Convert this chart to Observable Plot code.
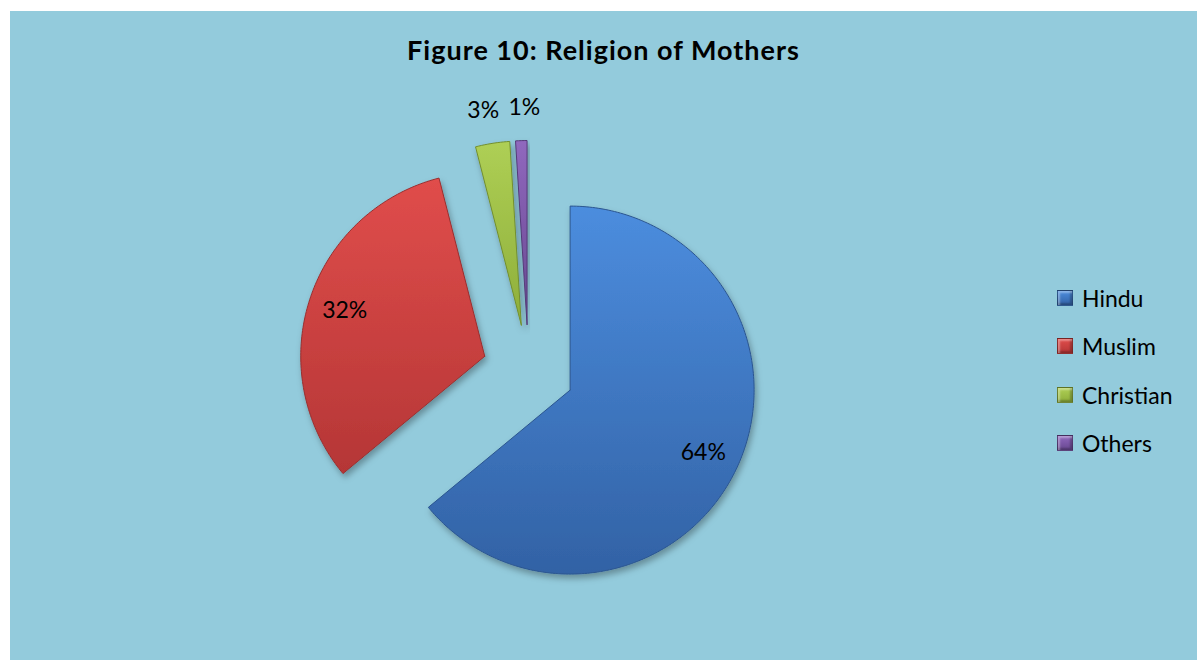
<!DOCTYPE html>
<html>
<head>
<meta charset="utf-8">
<script src="https://cdn.jsdelivr.net/npm/d3@7"></script>
<script src="https://cdn.jsdelivr.net/npm/@observablehq/plot@0.6"></script>
<style>
  html, body { margin: 0; padding: 0; background: #ffffff; }
  #chart { position: absolute; left: 10px; top: 11px; width: 1187px; height: 649px; background: #93CBDC; overflow: hidden; font-family: Lato, "Open Sans", sans-serif; }
  #title { position: absolute; left: 0; width: 100%; top: 23px; text-align: center; font-weight: bold; font-size: 27px; letter-spacing: 1px; color: #000; line-height: 1.2; }
  #plot { position: absolute; left: 0; top: 0; }
  #legend { position: absolute; left: 1047px; top: 263px; }
  .item { display: flex; align-items: center; height: 48.3px; font-size: 23px; color: #000; }
  .sw { width: 16px; height: 16px; margin-right: 9px; box-sizing: border-box; border: 1px solid rgba(0,0,0,0.35); box-shadow: inset 2px 2px 2px rgba(255,255,255,0.35), inset -2px -2px 2px rgba(0,0,0,0.25); }
</style>
</head>
<body>
<div id="chart">
  <div id="title">Figure 10: Religion of Mothers</div>
  <div id="plot"></div>
  <div id="legend"></div>
</div>
<script>
// ---- data ----
const categories = ["Hindu", "Muslim", "Christian", "Others"];
const values = [64, 32, 3, 1];
const valueLabels = ["64%", "32%", "3%", "1%"];

// ---- style ----
const topColors = ["#4C8DDE", "#E04D4B", "#AECF55", "#9068BE"];
const bottomColors = ["#3262A5", "#B53636", "#8EAE3A", "#67478F"];
const edgeColors = ["#2B558F", "#9A2E2E", "#738F2E", "#553A78"];

const W = 1187, H = 649, px = 184, ox = 518, oy = 359;
const labelSize = 23;

const total = d3.sum(values);
const explode = 0.25;
const R = 1;
let acc = 0;
const slices = values.map((v, i) => {
  const a0 = acc / total * 2 * Math.PI;
  acc += v;
  const a1 = acc / total * 2 * Math.PI;
  const mid = (a0 + a1) / 2;
  const cx = explode * Math.sin(mid);
  const cy = explode * Math.cos(mid);
  const pts = [{x: cx, y: cy}];
  const n = Math.max(4, Math.ceil((a1 - a0) / (Math.PI / 180)));
  for (let k = 0; k <= n; k++) {
    const a = a0 + (a1 - a0) * k / n;
    pts.push({x: cx + R * Math.sin(a), y: cy + R * Math.cos(a)});
  }
  pts.push({x: cx, y: cy});
  const inside = v >= 10;
  const lr = inside ? 0.8 : 1.18;
  return {i, name: categories[i], pts, label: valueLabels[i], inside,
          lx: cx + lr * Math.sin(mid), ly: cy + lr * Math.cos(mid)};
});

// simple collision avoidance for neighbouring outside labels
const outside = slices.filter(s => !s.inside);
for (let k = 1; k < outside.length; k++) {
  const a = outside[k - 1], b = outside[k];
  const wA = a.label.length * 0.72 * labelSize / px, wB = b.label.length * 0.72 * labelSize / px;
  const need = (wA + wB) / 2 + 8 / px;
  const gap = Math.abs(b.lx - a.lx);
  if (gap < need) {
    const push = (need - gap) / 2;
    const sgn = b.lx >= a.lx ? 1 : -1;
    a.lx -= sgn * push; b.lx += sgn * push;
  }
}

const marks = slices.map(s => Plot.line(s.pts, {
  x: "x", y: "y", fill: `url(#grad${s.i})`, stroke: edgeColors[s.i], strokeWidth: 1, curve: "linear"
}));

const labelData = slices.map(s => ({x: s.lx, y: s.ly, t: s.label}));
marks.push(Plot.text(labelData, {x: "x", y: "y", text: "t", fontSize: labelSize, fill: "#000", fontFamily: "Lato, 'Open Sans', sans-serif"}));

const svg = Plot.plot({
  width: W, height: H, margin: 0,
  x: {domain: [-ox / px, (W - ox) / px], axis: null},
  y: {domain: [-(H - oy) / px, oy / px], axis: null},
  style: {background: "transparent", overflow: "visible"},
  marks
});

const sel = d3.select(svg);
const defs = sel.insert("defs", ":first-child");
topColors.forEach((c, i) => {
  const g = defs.append("linearGradient").attr("id", `grad${i}`).attr("x1", 0).attr("y1", 0).attr("x2", 0).attr("y2", 1);
  g.append("stop").attr("offset", "0%").attr("stop-color", c);
  g.append("stop").attr("offset", "100%").attr("stop-color", bottomColors[i]);
});
const f = defs.append("filter").attr("id", "shadow").attr("x", "-20%").attr("y", "-20%").attr("width", "140%").attr("height", "140%");
f.append("feDropShadow").attr("dx", 2).attr("dy", 4).attr("stdDeviation", 3).attr("flood-color", "#000").attr("flood-opacity", 0.3);
sel.selectAll("g[aria-label='line']").attr("filter", "url(#shadow)");

document.getElementById("plot").appendChild(svg);

// legend
const legend = d3.select("#legend");
categories.forEach((c, i) => {
  const it = legend.append("div").attr("class", "item");
  it.append("div").attr("class", "sw").style("background", `linear-gradient(${topColors[i]}, ${bottomColors[i]})`);
  it.append("span").text(c);
});
</script>
</body>
</html>
